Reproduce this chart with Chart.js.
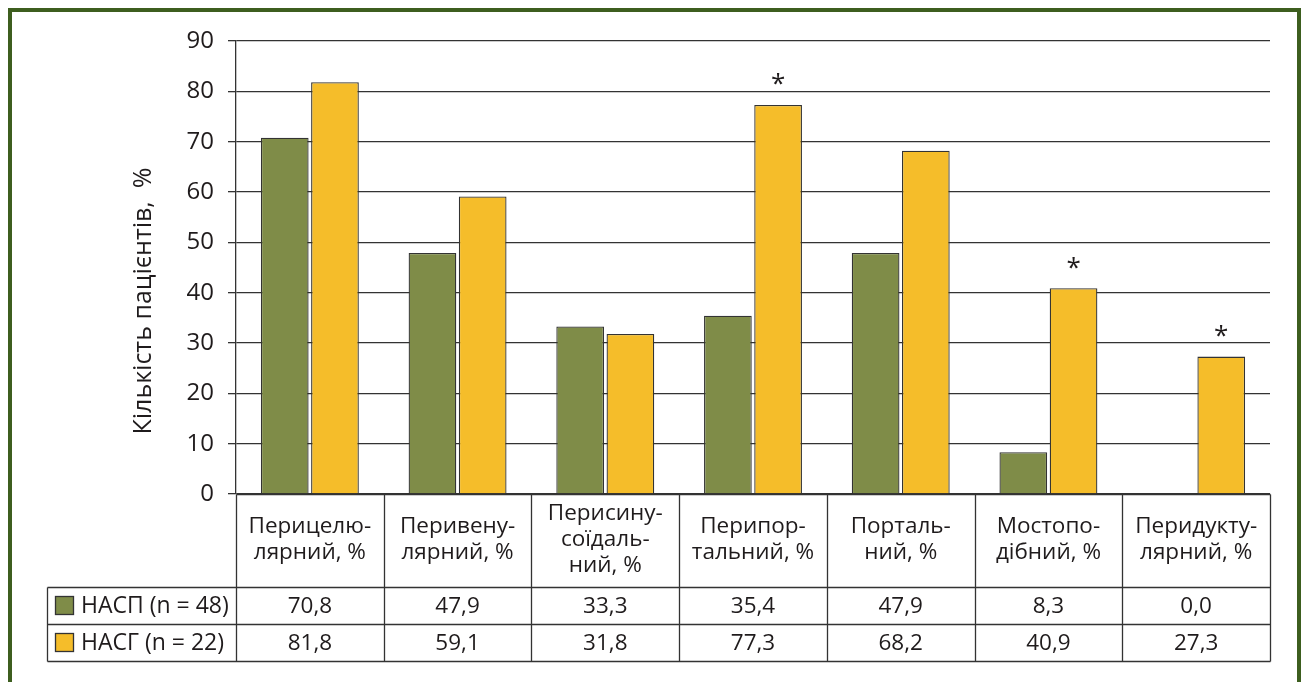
<!DOCTYPE html>
<html lang="uk">
<head>
<meta charset="utf-8">
<title>Кількість пацієнтів, %</title>
<script src="https://cdn.jsdelivr.net/npm/chart.js@4.4.1/dist/chart.umd.min.js"></script>
<style>
  html, body { margin: 0; padding: 0; background: #fff; overflow: hidden; }
  #wrap { position: absolute; left: 0; top: 0; width: 1303px; height: 682px; }
  #frame {
    position: absolute; left: 8px; top: 8px; width: 1285px; height: 700px;
    border: 4px solid #3d5e1f; box-sizing: content-box; pointer-events: none;
  }
</style>
</head>
<body>
<div id="wrap"><canvas id="chart"></canvas></div>
<div id="frame"></div>
<script>
// Categories (multi-line labels for the table header row)
const categories = [
  ['Перицелю-', 'лярний, %'],
  ['Перивену-', 'лярний, %'],
  ['Перисину-', 'соїдаль-', 'ний, %'],
  ['Перипор-', 'тальний, %'],
  ['Порталь-', 'ний, %'],
  ['Мостопо-', 'дібний, %'],
  ['Перидукту-', 'лярний, %']
];
const seriesNames = ['НАСП (n = 48)', 'НАСГ (n = 22)'];
const nasp = [70.8, 47.9, 33.3, 35.4, 47.9, 8.3, 0.0];
const nasg = [81.8, 59.1, 31.8, 77.3, 68.2, 40.9, 27.3];
// Bars of the НАСГ series marked with an asterisk
const nasgSignificant = [false, false, false, true, false, true, true];
const yTicks = [0, 10, 20, 30, 40, 50, 60, 70, 80, 90];
const yTitle = 'Кількість пацієнтів,  %';

const FONT = '"Open Sans", "Noto Sans", sans-serif';
const TEXT = '#1f1b1c';
const LINE = '#333333';
const GREEN = '#7f8c48';
const YELLOW = '#f5bd2a';

const fmt = v => v.toFixed(1).replace('.', ',');

// Draws the y title, asterisks and the data table under the plot
const tablePlugin = {
  id: 'dataTable',
  afterDraw(chart) {
    const { ctx, chartArea, scales } = chart;
    const x = scales.x, y = scales.y;
    const left = chartArea.left, right = chartArea.right;
    const axisY = y.getPixelForValue(0);
    const headBottom = 587, row1 = 624, row2 = 661, legendLeft = 47;

    ctx.save();
    // Axis title
    ctx.fillStyle = TEXT;
    ctx.font = '25px ' + FONT;
    ctx.textAlign = 'center';
    ctx.textBaseline = 'middle';
    ctx.translate(144, 301);
    ctx.rotate(-Math.PI / 2);
    ctx.fillText(yTitle, 0, 0);
    ctx.restore();

    // Asterisks above marked bars
    ctx.save();
    ctx.fillStyle = TEXT;
    ctx.font = '26px ' + FONT;
    ctx.textAlign = 'center';
    ctx.textBaseline = 'middle';
    const meta = chart.getDatasetMeta(1);
    nasgSignificant.forEach((s, i) => {
      if (!s) return;
      const bar = meta.data[i];
      ctx.fillText('*', bar.x, bar.y - 20);
    });
    ctx.restore();

    // Table grid
    ctx.save();
    ctx.strokeStyle = LINE;
    ctx.lineWidth = 1.3;
    const n = categories.length;
    const colW = (right - left) / n;
    const px = v => Math.round(v) + 0.5;
    ctx.beginPath();
    for (let i = 0; i <= n; i++) {
      const cx = px(left + i * colW);
      ctx.moveTo(cx, px(axisY)); ctx.lineTo(cx, px(row2));
    }
    ctx.moveTo(px(left), px(axisY)); ctx.lineTo(px(right), px(axisY));
    [headBottom, row1, row2].forEach(r => {
      ctx.moveTo(px(legendLeft), px(r)); ctx.lineTo(px(right), px(r));
    });
    ctx.moveTo(px(legendLeft), px(headBottom)); ctx.lineTo(px(legendLeft), px(row2));
    ctx.stroke();

    // Header labels, centred in each cell
    ctx.fillStyle = TEXT;
    ctx.textAlign = 'center';
    ctx.textBaseline = 'middle';
    ctx.font = '22.5px ' + FONT;
    const lh = 26;
    const headMid = (axisY + headBottom) / 2 - 1;
    categories.forEach((lines, i) => {
      const cx = x.getPixelForValue(i);
      const y0 = headMid - (lines.length - 1) * lh / 2;
      lines.forEach((t, k) => ctx.fillText(t, cx, y0 + k * lh));
    });

    // Legend cells and values
    const rows = [[headBottom, row1], [row1, row2]];
    const colors = [GREEN, YELLOW];
    const values = [nasp, nasg];
    rows.forEach(([top, bot], r) => {
      const mid = (top + bot) / 2;
      ctx.fillStyle = colors[r];
      ctx.fillRect(55, Math.round(mid - 9.5), 19, 19);
      ctx.strokeRect(55.5, Math.round(mid - 9.5) + 0.5, 18, 18);
      ctx.fillStyle = TEXT;
      ctx.textAlign = 'left';
      ctx.font = '23px ' + FONT;
      ctx.fillText(seriesNames[r], 81, mid + 1);
      ctx.textAlign = 'center';
      ctx.font = '22.5px ' + FONT;
      values[r].forEach((v, i) => ctx.fillText(fmt(v), x.getPixelForValue(i), mid + 1));
    });
    ctx.restore();
  }
};

new Chart(document.getElementById('chart'), {
  type: 'bar',
  data: {
    labels: categories,
    datasets: [
      { label: seriesNames[0], data: nasp, backgroundColor: GREEN, borderColor: LINE, borderWidth: 1.3,
        categoryPercentage: 0.68, barPercentage: 0.95 },
      { label: seriesNames[1], data: nasg, backgroundColor: YELLOW, borderColor: LINE, borderWidth: 1.3,
        categoryPercentage: 0.68, barPercentage: 0.95 }
    ]
  },
  options: {
    responsive: true,
    maintainAspectRatio: false,
    animation: false,
    events: [],
    layout: { padding: { top: 41, right: 33, left: 0, bottom: 0 } },
    plugins: { legend: { display: false }, tooltip: { enabled: false } },
    scales: {
      x: {
        grid: { display: false },
        border: { display: false },
        ticks: { display: false },
        afterFit(scale) { scale.height = 188; }
      },
      y: {
        min: 0, max: 90,
        afterBuildTicks(scale) { scale.ticks = yTicks.map(v => ({ value: v })); },
        grid: { color: LINE, lineWidth: 1.3, tickLength: 8, drawTicks: true },
        border: { display: true, color: LINE, width: 1.3 },
        ticks: { color: TEXT, font: { family: FONT, size: 24 }, padding: 14 },
        afterFit(scale) { scale.width = 236; }
      }
    }
  },
  plugins: [tablePlugin]
});
</script>
</body>
</html>
